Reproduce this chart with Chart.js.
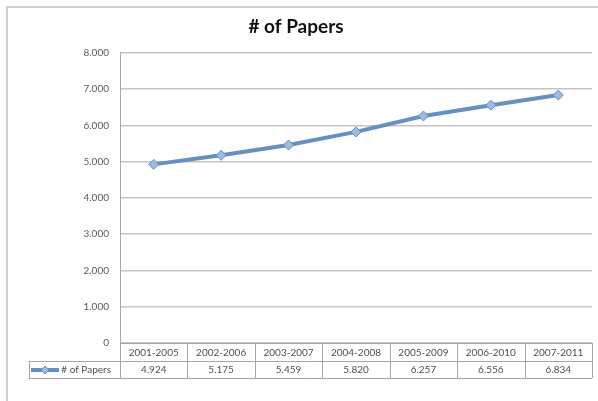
<!DOCTYPE html>
<html>
<head>
<meta charset="utf-8">
<title># of Papers</title>
<script src="https://cdn.jsdelivr.net/npm/chart.js@4"></script>
<style>
    html, body {
        margin: 0;
        padding: 0;
        background: #ffffff;
    }
    #chart-wrapper {
        width: 598px;
        height: 401px;
    }
</style>
</head>
<body>
<div id="chart-wrapper">
    <canvas id="papersChart" width="598" height="401"></canvas>
</div>
<script>
const periods = ['2001-2005', '2002-2006', '2003-2007', '2004-2008', '2005-2009', '2006-2010', '2007-2011'];
const papers = [4924, 5175, 5459, 5820, 6257, 6556, 6834];
const seriesName = '# of Papers';
const yTicks = [0, 1000, 2000, 3000, 4000, 5000, 6000, 7000, 8000];

const lineColor = '#6690c2';
const markerFill = '#9dbbe0';
const textColor = '#505050';
const fontFamily = 'Lato, "Open Sans", sans-serif';

// Thousands separator is a dot: 8000 -> 8.000
function formatNumber(value) {
    return String(value).replace(/\B(?=(\d{3})+(?!\d))/g, '.');
}

// Frame around the whole chart, like a spreadsheet chart object
const chartFrame = {
    id: 'chartFrame',
    beforeDraw(chart) {
        const ctx = chart.ctx;
        ctx.save();
        ctx.fillStyle = '#ffffff';
        ctx.fillRect(0, 0, chart.width, chart.height);
        ctx.strokeStyle = '#cfcfcf';
        ctx.lineWidth = 2;
        ctx.strokeRect(7, 7, chart.width + 10, chart.height + 10);
        ctx.restore();
    }
};

// Data table under the plot, columns follow the category scale
const dataTable = {
    id: 'dataTable',
    afterDraw(chart) {
        const ctx = chart.ctx;
        const xScale = chart.scales.x;
        const area = chart.chartArea;
        const colWidth = (area.right - area.left) / periods.length;
        const headerTop = area.bottom;
        const rowTop = headerTop + 18;
        const rowBottom = rowTop + 17;
        const legendLeft = 29;

        ctx.save();
        ctx.strokeStyle = '#a6a6a6';
        ctx.lineWidth = 1;

        ctx.beginPath();
        ctx.moveTo(area.left, headerTop + 0.5);
        ctx.lineTo(area.right, headerTop + 0.5);
        ctx.moveTo(legendLeft, rowTop + 0.5);
        ctx.lineTo(area.right, rowTop + 0.5);
        ctx.moveTo(legendLeft, rowBottom + 0.5);
        ctx.lineTo(area.right, rowBottom + 0.5);
        ctx.moveTo(legendLeft + 0.5, rowTop);
        ctx.lineTo(legendLeft + 0.5, rowBottom);
        for (let i = 0; i <= periods.length; i++) {
            const x = Math.round(area.left + i * colWidth) + 0.5;
            ctx.moveTo(x, headerTop);
            ctx.lineTo(x, rowBottom);
        }
        ctx.stroke();

        ctx.fillStyle = textColor;
        ctx.font = '10px ' + fontFamily;
        ctx.textAlign = 'center';
        ctx.textBaseline = 'middle';
        periods.forEach((label, i) => {
            const x = xScale.getPixelForValue(i);
            ctx.fillText(label, x, headerTop + 9.5);
            ctx.fillText(formatNumber(papers[i]), x, rowTop + 9);
        });

        // legend key inside the row header
        const keyY = rowTop + 9;
        ctx.strokeStyle = lineColor;
        ctx.lineWidth = 4;
        ctx.beginPath();
        ctx.moveTo(31, keyY);
        ctx.lineTo(59, keyY);
        ctx.stroke();
        ctx.fillStyle = markerFill;
        ctx.lineWidth = 1;
        ctx.beginPath();
        ctx.moveTo(45, keyY - 4);
        ctx.lineTo(49, keyY);
        ctx.lineTo(45, keyY + 4);
        ctx.lineTo(41, keyY);
        ctx.closePath();
        ctx.fill();
        ctx.stroke();

        ctx.fillStyle = textColor;
        ctx.textAlign = 'right';
        ctx.fillText(seriesName, area.left - 9, keyY);
        ctx.restore();
    }
};

const ctx = document.getElementById('papersChart').getContext('2d');
new Chart(ctx, {
    type: 'line',
    data: {
        labels: periods,
        datasets: [{
            label: seriesName,
            data: papers,
            borderColor: lineColor,
            borderWidth: 4,
            pointStyle: 'rectRot',
            pointRadius: 5,
            pointBackgroundColor: markerFill,
            pointBorderColor: lineColor,
            pointBorderWidth: 1,
            tension: 0,
            fill: false
        }]
    },
    options: {
        responsive: false,
        animation: false,
        layout: {
            padding: { left: 0, right: 6, top: 7, bottom: 58 }
        },
        plugins: {
            legend: { display: false },
            tooltip: { enabled: false },
            title: {
                display: true,
                text: seriesName,
                color: '#111111',
                font: { family: fontFamily, size: 19, weight: 'bold' },
                padding: { top: 8, bottom: 15 }
            }
        },
        scales: {
            x: {
                display: false,
                offset: true
            },
            y: {
                min: 0,
                max: 8000,
                afterFit(scale) {
                    scale.width = 120;
                },
                afterBuildTicks(scale) {
                    scale.ticks = yTicks.map(v => ({ value: v }));
                },
                grid: {
                    color: '#c4c4c4',
                    lineWidth: 1.5,
                    drawTicks: false
                },
                border: {
                    color: '#a8a8a8',
                    width: 1
                },
                ticks: {
                    color: '#5a5a5a',
                    padding: 11,
                    font: { family: fontFamily, size: 10 },
                    callback: function(value) {
                        return formatNumber(value);
                    }
                }
            }
        }
    },
    plugins: [chartFrame, dataTable]
});
</script>
</body>
</html>
